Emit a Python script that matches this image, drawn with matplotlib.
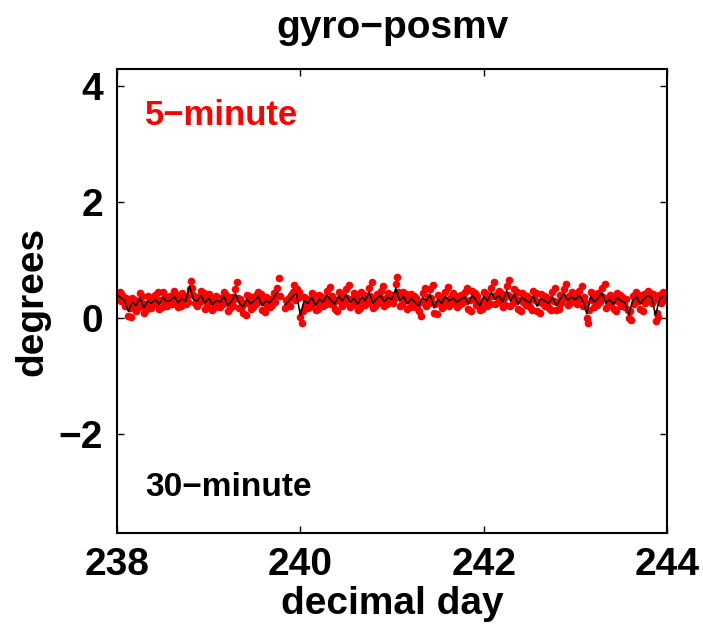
import numpy as np
import matplotlib
matplotlib.use("Agg")
import matplotlib.pyplot as plt

plt.rcParams['font.family'] = ['Liberation Sans', 'DejaVu Sans']
plt.rcParams['font.weight'] = 'bold'

# 30-minute averages, one row per day 238..243
black_days = [238, 239, 240, 241, 242, 243]
black_vals = [
    [0.40, 0.36, 0.30, 0.12, 0.28, 0.22, 0.35, 0.18, 0.30, 0.26, 0.33, 0.24,
     0.36, 0.29, 0.31, 0.38, 0.27, 0.34, 0.30, 0.56, 0.33, 0.30, 0.40, 0.26],
    [0.35, 0.24, 0.31, 0.28, 0.38, 0.22, 0.30, 0.43, 0.26, 0.20, 0.33, 0.25,
     0.31, 0.38, 0.22, 0.30, 0.27, 0.36, 0.45, np.nan, 0.24, 0.30, 0.38, 0.43],
    [0.05, 0.30, 0.26, 0.36, 0.22, 0.33, 0.28, 0.40, 0.31, 0.25, 0.38, 0.30,
     0.42, 0.27, 0.35, 0.24, 0.37, 0.31, 0.45, 0.26, 0.34, 0.40, 0.29, 0.36],
    [0.33, 0.52, 0.30, 0.38, 0.25, 0.34, 0.28, 0.22, 0.36, 0.30, 0.42, 0.18,
     0.33, 0.26, 0.38, 0.30, 0.35, 0.28, 0.33, 0.37, 0.25, 0.40, 0.31, 0.22],
    [0.38, 0.30, 0.45, 0.33, 0.40, 0.28, 0.48, 0.30, 0.42, 0.24, 0.36, 0.31,
     0.27, 0.39, 0.21, 0.34, 0.30, 0.26, 0.37, 0.22, 0.33, 0.43, 0.31, 0.37],
    [0.32, 0.40, 0.30, 0.08, 0.38, 0.28, 0.35, 0.44, 0.26, 0.33, 0.24, 0.36,
     0.30, 0.27, 0.06, 0.31, 0.37, 0.25, 0.34, 0.40, 0.35, 0.05, 0.33, 0.38],
]

# 5-minute values (thinned, three per hour), one row per day
red_vals = [
    [0.42, 0.38, 0.45, 0.30, 0.41, 0.33, 0.22, 0.36, 0.27, 0.05, 0.18, 0.02,
     0.35, 0.20, 0.31, 0.12, 0.30, 0.19, 0.44, 0.28, 0.38, 0.10, 0.24, 0.15,
     0.38, 0.22, 0.33, 0.18, 0.34, 0.25, 0.40, 0.27, 0.46, 0.16, 0.31, 0.20,
     0.45, 0.30, 0.39, 0.21, 0.36, 0.26, 0.38, 0.24, 0.33, 0.47, 0.30, 0.41,
     0.19, 0.35, 0.22, 0.43, 0.26, 0.37, 0.24, 0.38, 0.29, 0.50, 0.64, 0.52,
     0.40, 0.26, 0.35, 0.22, 0.37, 0.28, 0.48, 0.33, 0.44, 0.17, 0.32, 0.22],
    [0.42, 0.28, 0.37, 0.15, 0.30, 0.20, 0.38, 0.25, 0.34, 0.20, 0.35, 0.24,
     0.45, 0.31, 0.40, 0.13, 0.28, 0.18, 0.37, 0.22, 0.33, 0.50, 0.62, 0.36,
     0.18, 0.33, 0.21, 0.10, 0.27, 0.06, 0.40, 0.26, 0.38, 0.17, 0.32, 0.20,
     0.39, 0.24, 0.35, 0.46, 0.30, 0.42, 0.14, 0.29, 0.11, 0.37, 0.22, 0.34,
     0.20, 0.34, 0.23, 0.43, 0.29, 0.40, 0.52, 0.70, 0.38, np.nan, np.nan, np.nan,
     0.18, 0.31, 0.25, 0.36, 0.22, 0.40, 0.45, 0.58, 0.32, 0.50, 0.36, 0.46],
    [0.02, -0.08, 0.12, 0.37, 0.22, 0.33, 0.18, 0.32, 0.21, 0.44, 0.29, 0.40,
     0.14, 0.28, 0.17, 0.40, 0.25, 0.37, 0.21, 0.35, 0.24, 0.48, 0.33, 0.55,
     0.24, 0.38, 0.27, 0.17, 0.31, 0.13, 0.45, 0.30, 0.42, 0.22, 0.37, 0.26,
     0.50, 0.35, 0.58, 0.19, 0.33, 0.23, 0.43, 0.28, 0.39, 0.15, 0.30, 0.18,
     0.45, 0.31, 0.41, 0.23, 0.38, 0.27, 0.53, 0.38, 0.62, 0.18, 0.32, 0.21,
     0.42, 0.27, 0.38, 0.48, 0.33, 0.56, 0.21, 0.36, 0.25, 0.44, 0.29, 0.40],
    [0.40, 0.26, 0.36, 0.60, 0.72, 0.45, 0.22, 0.37, 0.25, 0.46, 0.31, 0.42,
     0.17, 0.32, 0.20, 0.42, 0.27, 0.38, 0.20, 0.35, 0.23, 0.13, 0.28, 0.05,
     0.44, 0.29, 0.52, 0.22, 0.37, 0.26, 0.50, 0.35, 0.58, 0.10, 0.25, 0.08,
     0.41, 0.26, 0.37, 0.18, 0.33, 0.21, 0.46, 0.31, 0.55, 0.22, 0.37, 0.26,
     0.43, 0.28, 0.39, 0.20, 0.35, 0.23, 0.41, 0.26, 0.37, 0.45, 0.30, 0.52,
     0.17, 0.32, 0.12, 0.48, 0.33, 0.44, 0.23, 0.38, 0.27, 0.14, 0.29, 0.17],
    [0.46, 0.31, 0.42, 0.22, 0.37, 0.25, 0.53, 0.38, 0.62, 0.25, 0.40, 0.28,
     0.48, 0.33, 0.44, 0.20, 0.35, 0.23, 0.56, 0.41, 0.66, 0.22, 0.37, 0.26,
     0.50, 0.35, 0.46, 0.16, 0.31, 0.12, 0.44, 0.29, 0.40, 0.23, 0.38, 0.27,
     0.19, 0.34, 0.15, 0.47, 0.32, 0.43, 0.13, 0.28, 0.09, 0.42, 0.27, 0.38,
     0.22, 0.37, 0.26, 0.18, 0.33, 0.14, 0.45, 0.30, 0.53, 0.14, 0.29, 0.17,
     0.41, 0.26, 0.37, 0.51, 0.36, 0.60, 0.23, 0.38, 0.27, 0.45, 0.30, 0.41],
    [0.40, 0.25, 0.36, 0.48, 0.33, 0.56, 0.22, 0.37, 0.26, 0.00, -0.08, 0.15,
     0.46, 0.31, 0.42, 0.20, 0.35, 0.23, 0.43, 0.28, 0.39, 0.52, 0.37, 0.60,
     0.18, 0.33, 0.21, 0.41, 0.26, 0.37, 0.16, 0.31, 0.12, 0.44, 0.29, 0.40,
     0.22, 0.37, 0.26, 0.19, 0.34, 0.15, 0.00, 0.12, -0.02, 0.39, 0.24, 0.35,
     0.45, 0.30, 0.41, 0.17, 0.32, 0.13, 0.42, 0.27, 0.38, 0.48, 0.33, 0.44,
     0.27, 0.42, 0.31, -0.05, 0.10, 0.02, 0.41, 0.26, 0.37, 0.46, 0.31, 0.40],
]

xticks = [238, 240, 242, 244]
yticks = [-2, 0, 2, 4]

t_black = np.concatenate([d + np.arange(24) / 24 for d in black_days])
y_black = np.concatenate(black_vals)
t_red = np.concatenate([d + np.arange(72) / 72 for d in black_days])
y_red = np.concatenate(red_vals)

fig = plt.figure(figsize=(7.03, 6.32), dpi=100)
ax = fig.add_axes([117 / 703, 99 / 632, 550 / 703, 464 / 632])

ax.plot(t_red, y_red, 'o', color='red', markersize=5.5, markeredgewidth=0)
ax.plot(t_black, y_black, '-', color='black', linewidth=1.1)

ax.set_xlim(238, 244)
ax.set_ylim(-3.7, 4.3)
ax.set_xticks(xticks)
ax.set_yticks(yticks)
ax.set_xticklabels([str(v) for v in xticks])
ax.set_yticklabels(['\u22122', '0', '2', '4'])
ax.tick_params(direction='in', length=5, width=1, top=True, right=True,
               labelsize=28, pad=10)
for lab in ax.get_xticklabels() + ax.get_yticklabels():
    lab.set_fontweight('bold')
for s in ax.spines.values():
    s.set_linewidth(1.5)

ax.text(0.051, 0.90, '5\u2212minute', color='red', fontsize=25,
        fontweight='bold', transform=ax.transAxes, va='center', ha='left')
ax.text(0.051, 0.097, '30\u2212minute', color='black', fontsize=24,
        fontweight='bold', transform=ax.transAxes, va='center', ha='left')

ax.set_title('gyro\u2212posmv', fontsize=28, fontweight='bold', pad=22)
ax.set_xlabel('decimal day', fontsize=28, fontweight='bold', labelpad=2)
ax.set_ylabel('degrees', fontsize=28, fontweight='bold', labelpad=6)

fig.savefig('out.png', dpi=100)
